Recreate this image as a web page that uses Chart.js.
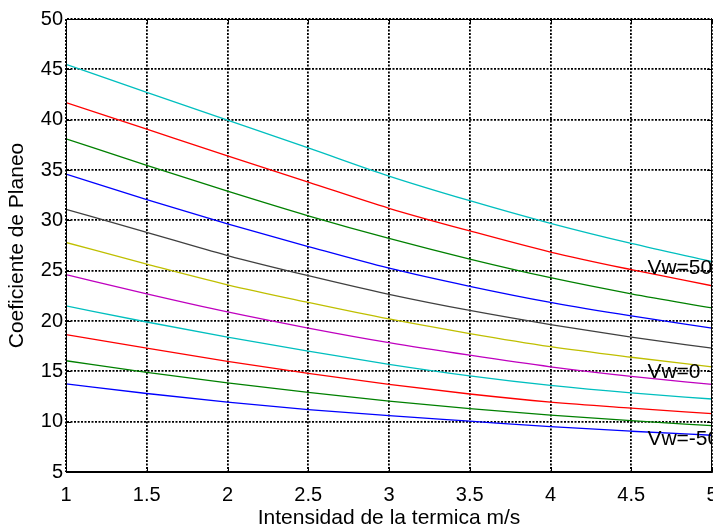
<!DOCTYPE html>
<html>
<head>
<meta charset="utf-8">
<title>Coeficiente de Planeo</title>
<script src="https://cdn.jsdelivr.net/npm/chart.js@4.4.1/dist/chart.umd.min.js"></script>
<style>
  html, body { margin: 0; padding: 0; background: #fff; }
  #contenedor { width: 713px; height: 531px; }
</style>
</head>
<body>
<div id="contenedor"><canvas id="graficoPlaneo"></canvas></div>
<script>
// Intensidad de la termica (m/s)
const intensidad = [1, 1.5, 2, 2.5, 3, 3.5, 4, 4.5, 5];

// Coeficiente de planeo para cada viento Vw (de -50 a 50)
const vwMenos50 = [13.75, 12.8, 11.95, 11.2, 10.6, 10.05, 9.5, 9.05, 8.65];
const vwMenos40 = [16.05, 14.9, 13.85, 12.9, 12.05, 11.3, 10.65, 10.1, 9.6];
const vwMenos30 = [18.65, 17.3, 16.0, 14.8, 13.7, 12.75, 11.95, 11.35, 10.8];
const vwMenos20 = [21.5, 19.9, 18.4, 17.0, 15.7, 14.55, 13.6, 12.85, 12.25];
const vwMenos10 = [24.6, 22.7, 20.9, 19.3, 17.85, 16.6, 15.45, 14.5, 13.7];
const vw0 = [27.8, 25.65, 23.6, 21.85, 20.2, 18.75, 17.45, 16.4, 15.45];
const vw10 = [31.1, 28.8, 26.5, 24.5, 22.65, 21.05, 19.65, 18.4, 17.3];
const vw20 = [34.6, 32.05, 29.65, 27.4, 25.25, 23.45, 21.85, 20.5, 19.3];
const vw30 = [38.1, 35.45, 32.9, 30.45, 28.2, 26.15, 24.3, 22.7, 21.3];
const vw40 = [41.7, 39.05, 36.4, 33.8, 31.2, 28.95, 26.85, 25.1, 23.5];
const vw50 = [45.5, 42.7, 39.95, 37.2, 34.4, 31.95, 29.7, 27.7, 25.9];

const series = [vwMenos50, vwMenos40, vwMenos30, vwMenos20, vwMenos10, vw0, vw10, vw20, vw30, vw40, vw50];
const nombres = ['Vw=-50', 'Vw=-40', 'Vw=-30', 'Vw=-20', 'Vw=-10', 'Vw=0', 'Vw=10', 'Vw=20', 'Vw=30', 'Vw=40', 'Vw=50'];
// orden de colores de MATLAB
const colores = ['#0000ff', '#008000', '#ff0000', '#00bfbf', '#bf00bf', '#bfbf00', '#404040',
                 '#0000ff', '#008000', '#ff0000', '#00bfbf'];

// marcas de los ejes
const ticksX = [1, 1.5, 2, 2.5, 3, 3.5, 4, 4.5, 5];
const etiquetasX = ['1', '1.5', '2', '2.5', '3', '3.5', '4', '4.5', '5'];
const ticksY = [5, 10, 15, 20, 25, 30, 35, 40, 45, 50];
const etiquetasY = ['5', '10', '15', '20', '25', '30', '35', '40', '45', '50'];

// textos sobre la grafica
const textos = ['Vw=50', 'Vw=0', 'Vw=-50'];
const textosX = [4.6, 4.6, 4.6];
const textosY = [25.2, 14.9, 8.3];

const fuente = '"Liberation Sans", Arial, Helvetica, sans-serif';

// Caja, marcas interiores y textos (estilo MATLAB)
const pluginEjes = {
    id: 'ejesMatlab',
    afterDatasetsDraw(chart) {
        const ctx = chart.ctx;
        const area = chart.chartArea;
        const sx = chart.scales.x;
        const sy = chart.scales.y;
        ctx.save();
        ctx.strokeStyle = '#000';
        ctx.lineWidth = 1;
        ctx.strokeRect(area.left + 0.5, area.top + 0.5, area.right - area.left - 1, area.bottom - area.top - 1);
        ctx.beginPath();
        ticksX.forEach(v => {
            const px = Math.round(sx.getPixelForValue(v)) + 0.5;
            ctx.moveTo(px, area.bottom); ctx.lineTo(px, area.bottom - 5);
            ctx.moveTo(px, area.top); ctx.lineTo(px, area.top + 5);
        });
        ticksY.forEach(v => {
            const py = Math.round(sy.getPixelForValue(v)) + 0.5;
            ctx.moveTo(area.left, py); ctx.lineTo(area.left + 5, py);
            ctx.moveTo(area.right, py); ctx.lineTo(area.right - 5, py);
        });
        ctx.stroke();

        // textos recortados al area de la grafica
        ctx.beginPath();
        ctx.rect(area.left, area.top, area.right - area.left, area.bottom - area.top);
        ctx.clip();
        ctx.fillStyle = '#000';
        ctx.font = '21px ' + fuente;
        ctx.textAlign = 'left';
        ctx.textBaseline = 'middle';
        textos.forEach((t, i) => {
            ctx.fillText(t, sx.getPixelForValue(textosX[i]), sy.getPixelForValue(textosY[i]));
        });
        ctx.restore();
    }
};

function crearGrafico() {
    const ctx = document.getElementById('graficoPlaneo');

    const datasets = series.map((valores, i) => ({
        label: nombres[i],
        data: valores.map((y, j) => ({ x: intensidad[j], y: y })),
        borderColor: colores[i],
        backgroundColor: colores[i],
        borderWidth: 1.3,
        pointRadius: 0,
        cubicInterpolationMode: 'monotone',
        fill: false
    }));

    new Chart(ctx, {
        type: 'line',
        data: { datasets: datasets },
        options: {
            responsive: true,
            maintainAspectRatio: false,
            animation: false,
            events: [],
            layout: { padding: { top: 19, right: 1, left: 0, bottom: 0 } },
            plugins: {
                legend: { display: false },
                tooltip: { enabled: false }
            },
            scales: {
                x: {
                    type: 'linear',
                    min: 1,
                    max: 5,
                    afterBuildTicks: scale => { scale.ticks = ticksX.map(v => ({ value: v })); },
                    afterFit: scale => {
                        scale.height = 59;
                        scale.paddingLeft = 0;
                        scale.paddingRight = 0;
                    },
                    grid: { color: '#000', lineWidth: 1.8, drawTicks: false },
                    border: { display: true, color: '#000', width: 1, dash: [2, 1.5] },
                    ticks: {
                        color: '#000',
                        padding: 11,
                        maxRotation: 0,
                        autoSkip: false,
                        font: { family: fuente, size: 20 },
                        callback: (valor, i) => etiquetasX[i]
                    },
                    title: {
                        display: true,
                        text: 'Intensidad de la termica m/s',
                        color: '#000',
                        font: { family: fuente, size: 21, lineHeight: 1 },
                        padding: { top: 0, bottom: 2 }
                    }
                },
                y: {
                    type: 'linear',
                    min: 5,
                    max: 50,
                    afterBuildTicks: scale => { scale.ticks = ticksY.map(v => ({ value: v })); },
                    afterFit: scale => {
                        scale.width = 66;
                        scale.paddingTop = 0;
                        scale.paddingBottom = 0;
                    },
                    grid: { color: '#000', lineWidth: 1.8, drawTicks: false },
                    border: { display: true, color: '#000', width: 1, dash: [2, 1.5] },
                    ticks: {
                        color: '#000',
                        padding: 3,
                        autoSkip: false,
                        font: { family: fuente, size: 20 },
                        callback: (valor, i) => etiquetasY[i]
                    },
                    title: {
                        display: true,
                        text: 'Coeficiente de Planeo',
                        color: '#000',
                        font: { family: fuente, size: 21, lineHeight: 1 },
                        padding: { top: 7, bottom: 0 }
                    }
                }
            }
        },
        plugins: [pluginEjes]
    });
}

crearGrafico();
</script>
</body>
</html>
